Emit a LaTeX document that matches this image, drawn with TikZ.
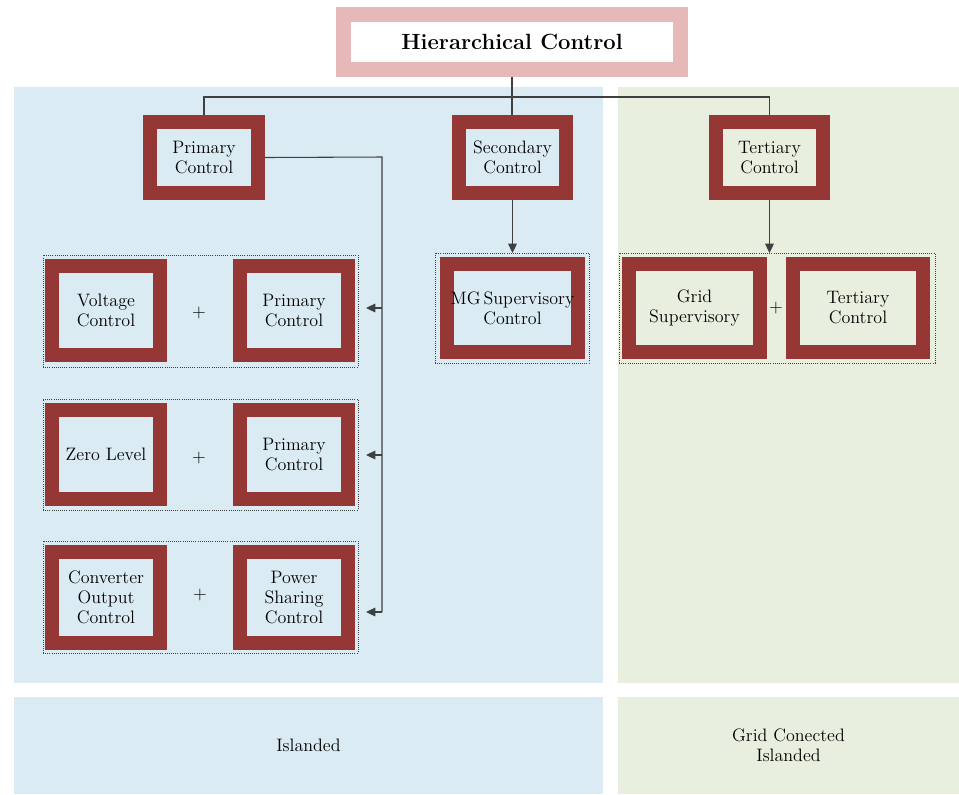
\documentclass[tikz,border=0pt]{standalone}
\usetikzlibrary{arrows.meta}
\definecolor{bgblue}{HTML}{DAEBF3}
\definecolor{bggreen}{HTML}{E8EFDE}
\definecolor{boxred}{HTML}{953735}
\definecolor{boxpink}{HTML}{E6B9B8}
\definecolor{linegray}{HTML}{404040}
\begin{document}
\begin{tikzpicture}[x=0.75pt,y=-0.75pt,
  region/.style={draw=none,inner sep=0pt,outer sep=0pt},
  cbox/.style={draw=boxred,line width=10.5pt,align=center,inner sep=0pt,outer sep=5.25pt,
    font=\fontsize{13.5}{15}\selectfont,text=black},
  grp/.style={draw=linegray,densely dotted,line width=0.6pt,inner sep=0pt,outer sep=0pt},
  conn/.style={draw=linegray,line width=0.8pt},
  arr/.style={conn,-{Triangle[length=7pt,width=6.5pt]},color=linegray},
  lbl/.style={font=\fontsize{13.5}{15}\selectfont,align=center}
]
\useasboundingbox (0,0) rectangle (959,794);
% background regions
\node[region,fill=bgblue,minimum width=589*0.75pt,minimum height=596*0.75pt] (blueTop) at (308.5,385) {};
\node[region,fill=bggreen,minimum width=341*0.75pt,minimum height=596*0.75pt] (greenTop) at (788.5,385) {};
\node[region,fill=bgblue,minimum width=589*0.75pt,minimum height=97*0.75pt,lbl] (blueBot) at (308.5,745.5) {Islanded};
\node[region,fill=bggreen,minimum width=341*0.75pt,minimum height=97*0.75pt,lbl] (greenBot) at (788.5,745.5) {Grid Conected\\Islanded};

% title
\node[draw=boxpink,line width=11.25pt,fill=white,minimum width=337*0.75pt,minimum height=55*0.75pt,
  outer sep=5.6pt,font=\fontsize{16.5}{19}\selectfont\bfseries] (hc) at (512,42) {Hierarchical Control};

% level boxes
\node[cbox,fill=bgblue,minimum width=108*0.75pt,minimum height=71*0.75pt] (pc) at (204,157.5) {Primary\\Control};
\node[cbox,fill=bgblue,minimum width=107*0.75pt,minimum height=71*0.75pt] (sc) at (512.5,157.5) {Secondary\\Control};
\node[cbox,fill=bggreen,minimum width=107*0.75pt,minimum height=71*0.75pt] (tc) at (769.5,157.5) {Tertiary\\Control};

% groups (dotted)
\node[grp,minimum width=315*0.75pt,minimum height=112*0.75pt] (g1) at (200.5,311) {};
\node[grp,minimum width=315*0.75pt,minimum height=111*0.75pt] (g2) at (200.5,454.5) {};
\node[grp,minimum width=315*0.75pt,minimum height=112*0.75pt] (g3) at (200.5,597) {};
\node[grp,minimum width=154*0.75pt,minimum height=110*0.75pt] (gm) at (512,308) {};
\node[grp,minimum width=316*0.75pt,minimum height=110*0.75pt] (gt) at (777,308) {};

% group boxes
\node[cbox,fill=bgblue,minimum width=108*0.75pt,minimum height=89*0.75pt] (vc) at (106,310.5) {Voltage\\Control};
\node[cbox,fill=bgblue,minimum width=108*0.75pt,minimum height=89*0.75pt] (p1) at (294,310.5) {Primary\\Control};
\node[lbl] (plus1) at (199,313) {+};

\node[cbox,fill=bgblue,minimum width=108*0.75pt,minimum height=89*0.75pt] (zl) at (106,454.5) {Zero Level};
\node[cbox,fill=bgblue,minimum width=108*0.75pt,minimum height=89*0.75pt] (p2) at (294,454.5) {Primary\\Control};
\node[lbl] (plus2) at (199,458) {+};

\node[cbox,fill=bgblue,minimum width=108*0.75pt,minimum height=91*0.75pt] (co) at (106,597.5) {Converter\\Output\\Control};
\node[cbox,fill=bgblue,minimum width=108*0.75pt,minimum height=91*0.75pt] (ps) at (294,597.5) {Power\\Sharing\\Control};
\node[lbl] (plus3) at (200,595) {+};

\node[cbox,fill=bgblue,minimum width=131*0.75pt,minimum height=88*0.75pt] (mg) at (512.5,308) {MG\,Supervisory\\Control};

\node[cbox,fill=bggreen,minimum width=131*0.75pt,minimum height=88*0.75pt] (gs) at (694.5,308) {Grid\\Supervisory};
\node[cbox,fill=bggreen,minimum width=130*0.75pt,minimum height=88*0.75pt] (t2) at (858,308) {Tertiary\\Control};
\node[lbl] (plus4) at (776,308) {+};

% connectors
\coordinate (hub) at (512,97);
\coordinate (busTop) at (382,157);
\coordinate (j1) at (382,308);
\coordinate (j2) at (382,455);
\coordinate (busBot) at (382,612);
\coordinate (a1) at (366,308);
\coordinate (a2) at (366,455);
\coordinate (a3) at (366,612);

\draw[conn] (hc.south) -- (hc.south |- sc.north);
\draw[conn] (pc.north) |- (hub) -| (tc.north);
\draw[conn] (pc.east) -- (busTop) -- (busBot);
\draw[arr] (j1) -- (a1);
\draw[arr] (j2) -- (a2);
\draw[arr] (busBot) -- (a3);
\draw[arr] (sc.south) -- (sc.south |- gm.north);
\draw[arr] (tc.south) -- (tc.south |- gt.north);
\end{tikzpicture}
\end{document}
